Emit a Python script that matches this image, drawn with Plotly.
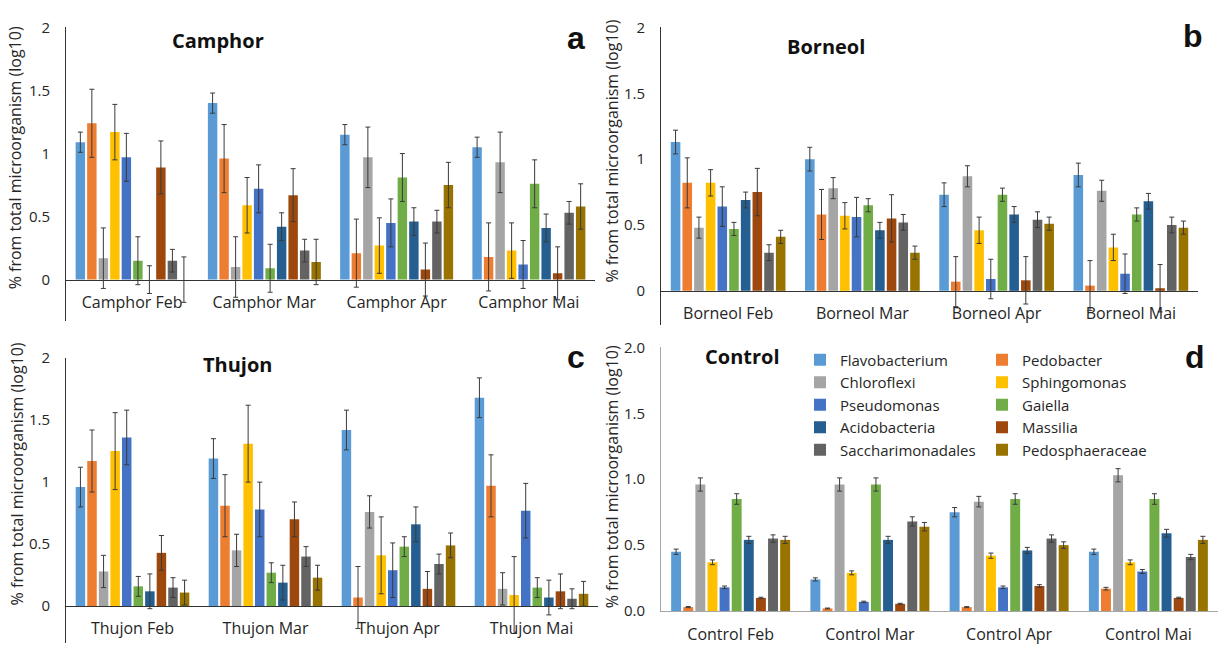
import plotly.graph_objects as go

taxa = ["Flavobacterium", "Pedobacter", "Chloroflexi", "Sphingomonas", "Pseudomonas",
        "Gaiella", "Acidobacteria", "Massilia", "Saccharimonadales", "Pedosphaeraceae"]
colors = ["#5B9BD5", "#ED7D31", "#A5A5A5", "#FFC000", "#4472C4",
          "#70AD47", "#255E91", "#9E480E", "#636363", "#997300"]

camphor_months = ["Camphor Feb", "Camphor Mar", "Camphor Apr", "Camphor Mai"]
borneol_months = ["Borneol Feb", "Borneol Mar", "Borneol Apr", "Borneol Mai"]
thujon_months = ["Thujon Feb", "Thujon Mar", "Thujon Apr", "Thujon Mai"]
control_months = ["Control Feb", "Control Mar", "Control Apr", "Control Mai"]

# values per taxon (rows) for Feb, Mar, Apr, Mai
camphor_vals = [
    [1.09, 1.40, 1.15, 1.05],
    [1.24, 0.96, 0.21, 0.18],
    [0.17, 0.10, 0.97, 0.93],
    [1.17, 0.59, 0.27, 0.23],
    [0.97, 0.72, 0.45, 0.12],
    [0.15, 0.09, 0.81, 0.76],
    [0.00, 0.42, 0.46, 0.41],
    [0.89, 0.67, 0.08, 0.05],
    [0.15, 0.23, 0.46, 0.53],
    [0.00, 0.14, 0.75, 0.58],
]
camphor_err = [0.08, 0.27, 0.24, 0.22, 0.19, 0.19, 0.11, 0.21, 0.09, 0.18]

borneol_vals = [
    [1.13, 1.00, 0.73, 0.88],
    [0.82, 0.58, 0.07, 0.04],
    [0.48, 0.78, 0.87, 0.76],
    [0.82, 0.57, 0.46, 0.33],
    [0.64, 0.56, 0.09, 0.13],
    [0.47, 0.65, 0.73, 0.58],
    [0.69, 0.46, 0.58, 0.68],
    [0.75, 0.55, 0.08, 0.02],
    [0.29, 0.52, 0.54, 0.50],
    [0.41, 0.29, 0.51, 0.48],
]
borneol_err = [0.09, 0.19, 0.08, 0.10, 0.15, 0.05, 0.06, 0.18, 0.06, 0.05]

thujon_vals = [
    [0.96, 1.19, 1.42, 1.68],
    [1.17, 0.81, 0.07, 0.97],
    [0.28, 0.45, 0.76, 0.14],
    [1.25, 1.31, 0.41, 0.09],
    [1.36, 0.78, 0.29, 0.77],
    [0.16, 0.27, 0.48, 0.15],
    [0.12, 0.19, 0.66, 0.07],
    [0.43, 0.70, 0.14, 0.12],
    [0.15, 0.40, 0.34, 0.06],
    [0.11, 0.23, 0.49, 0.10],
]
thujon_err = [0.16, 0.25, 0.13, 0.31, 0.22, 0.08, 0.14, 0.14, 0.08, 0.10]

control_vals = [
    [0.45, 0.24, 0.75, 0.45],
    [0.03, 0.02, 0.03, 0.17],
    [0.96, 0.96, 0.83, 1.03],
    [0.37, 0.29, 0.42, 0.37],
    [0.18, 0.07, 0.18, 0.30],
    [0.85, 0.96, 0.85, 0.85],
    [0.54, 0.54, 0.46, 0.59],
    [0.10, 0.055, 0.19, 0.10],
    [0.55, 0.68, 0.55, 0.41],
    [0.54, 0.64, 0.50, 0.54],
]
control_err = [
    [0.02, 0.012, 0.035, 0.02],
    [0.004, 0.003, 0.004, 0.01],
    [0.05, 0.05, 0.04, 0.05],
    [0.018, 0.015, 0.02, 0.018],
    [0.01, 0.005, 0.01, 0.015],
    [0.04, 0.05, 0.04, 0.04],
    [0.027, 0.027, 0.023, 0.03],
    [0.005, 0.004, 0.01, 0.005],
    [0.028, 0.035, 0.028, 0.02],
    [0.027, 0.032, 0.025, 0.027],
]

panel_titles = ["Camphor", "Borneol", "Thujon", "Control"]
panel_letters = ["a", "b", "c", "d"]
y_title = "% from total microorganism (log10)"

W, H = 1225, 654
FONT = "'Open Sans', Lato, sans-serif"
LETTER_FONT = "'Liberation Sans', Arial, sans-serif"


def px_x(v):
    return v / W


def px_y(v):
    return 1 - v / H


# panel geometry in pixels: (left, right, top(y=2), bottom)
panels = [
    dict(months=camphor_months, vals=camphor_vals, err=[[e] * 4 for e in camphor_err],
         left=66, right=595, top=17, bottom=320, yr=[-0.33, 2], free=True),
    dict(months=borneol_months, vals=borneol_vals, err=[[e] * 4 for e in borneol_err],
         left=661, right=1198, top=17, bottom=324, yr=[-0.26, 2], free=True),
    dict(months=thujon_months, vals=thujon_vals, err=[[e] * 4 for e in thujon_err],
         left=66, right=598, top=358, bottom=652, yr=[-0.297, 2], free=True),
    dict(months=control_months, vals=control_vals, err=control_err,
         left=661, right=1218, top=347, bottom=619, yr=[0, 2], free=False),
]

fig = go.Figure()
layout = dict()
legend_col1 = {0, 2, 4, 6, 8}

for p, pan in enumerate(panels):
    xa = "x" if p == 0 else f"x{p + 1}"
    ya = "y" if p == 0 else f"y{p + 1}"
    for t in range(len(taxa)):
        fig.add_trace(go.Bar(
            x=pan["months"], y=pan["vals"][t], name=taxa[t],
            marker=dict(color=colors[t], line=dict(width=0)),
            error_y=dict(type="data", array=pan["err"][t], color="#3a3a3a",
                         thickness=1, width=2.5),
            xaxis=xa, yaxis=ya,
            showlegend=(p == 3),
            legend="legend" if t in legend_col1 else "legend2",
        ))
    xd = [px_x(pan["left"]), px_x(pan["right"])]
    yd = [px_y(pan["bottom"]), px_y(pan["top"])]
    r0, r1 = pan["yr"]
    xkey = "xaxis" if p == 0 else f"xaxis{p + 1}"
    ykey = "yaxis" if p == 0 else f"yaxis{p + 1}"
    line_col = "#333333" if pan["free"] else "#a6a6a6"
    xax = dict(domain=xd, showgrid=False, zeroline=False, showline=True,
               linecolor=line_col, linewidth=1, ticks="", fixedrange=True,
               tickfont=dict(family=FONT, size=16, color="#262626"),
               ticklabelstandoff=8 if pan["free"] else 9)
    if pan["free"]:
        zero_pos = yd[0] + (0 - r0) / (r1 - r0) * (yd[1] - yd[0])
        xax.update(anchor="free", position=zero_pos)
    else:
        xax.update(anchor=ya)
    layout[xkey] = xax
    layout[ykey] = dict(domain=yd, range=pan["yr"], anchor=xa, showgrid=False,
                        zeroline=False, showline=True, linecolor=line_col, linewidth=1,
                        tickvals=[0, 0.5, 1, 1.5, 2], fixedrange=True,
                        tickformat=".1f" if not pan["free"] else None,
                        ticktext=None if not pan["free"] else ["0", "0.5", "1", "1.5", "2"],
                        ticks="", ticklabelstandoff=12,
                        tickfont=dict(family=FONT, size=15, color="#262626"))

annotations = []
ytitle_pos = [(15, 152), (612, 145), (17, 478), (612, 481)]
title_pos = [(218, 30), (826, 37), (238, 365), (742, 356)]
letter_pos = [(576, 28), (1193, 26), (576, 357), (1195, 357)]
for p in range(4):
    annotations.append(dict(text=y_title, x=px_x(ytitle_pos[p][0]), y=px_y(ytitle_pos[p][1]),
                            xref="paper", yref="paper", showarrow=False, textangle=-90,
                            xanchor="center", yanchor="middle",
                            font=dict(family=FONT, size=16, color="#262626")))
    annotations.append(dict(text=f"<b>{panel_titles[p]}</b>", x=px_x(title_pos[p][0]),
                            y=px_y(title_pos[p][1]), xref="paper", yref="paper",
                            xanchor="center", yanchor="middle",
                            showarrow=False, font=dict(family=FONT, size=20, color="#111111")))
    annotations.append(dict(text=f"<b>{panel_letters[p]}</b>", x=px_x(letter_pos[p][0]),
                            y=px_y(letter_pos[p][1]), xref="paper", yref="paper",
                            xanchor="center", yanchor="middle",
                            showarrow=False, font=dict(family=LETTER_FONT, size=32, color="#111111")))

legend_font = dict(family=FONT, size=15, color="#262626")
fig.update_layout(
    width=W, height=H,
    margin=dict(l=0, r=0, t=0, b=0),
    paper_bgcolor="white", plot_bgcolor="white",
    barmode="group", bargap=0.13, bargroupgap=0.18,
    annotations=annotations,
    legend=dict(x=px_x(800), y=px_y(343), xanchor="left", yanchor="top",
                orientation="v", font=legend_font, tracegroupgap=0,
                bgcolor="rgba(0,0,0,0)", itemclick=False),
    legend2=dict(x=px_x(982), y=px_y(343), xanchor="left", yanchor="top",
                 orientation="v", font=legend_font, tracegroupgap=0,
                 bgcolor="rgba(0,0,0,0)", itemclick=False),
    **layout,
)

fig.write_html("out.html", config={"displayModeBar": False},
               post_script="document.body.style.margin='0px';")
